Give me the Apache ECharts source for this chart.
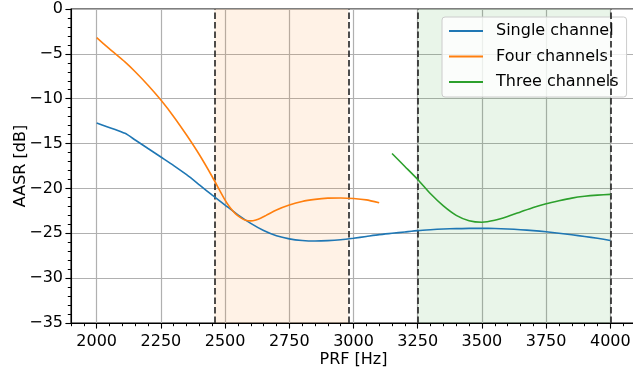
<!DOCTYPE html>
<html>
<head>
<meta charset="utf-8">
<script src="https://cdn.jsdelivr.net/npm/echarts@6/dist/echarts.min.js"></script>
<style>
  html, body { margin: 0; padding: 0; background: #fff; }
  #chart { width: 633px; height: 369px; }
</style>
</head>
<body>
<div id="chart"></div>
<script>
// PRF sweep (Hz) and AASR (dB) for each channel configuration
const prfSingle = [2000, 2110, 2150, 2200, 2250, 2300, 2350, 2400, 2450, 2500, 2550, 2600, 2650, 2700, 2750, 2800, 2850, 2900, 2950, 3000, 3050, 3100, 3150, 3200, 3250, 3300, 3350, 3400, 3450, 3500, 3550, 3600, 3650, 3700, 3750, 3800, 3850, 3900, 3950, 4000];
const aasrSingle = [-12.7, -13.86, -14.6, -15.55, -16.5, -17.45, -18.47, -19.6, -20.75, -21.85, -22.95, -23.9, -24.7, -25.28, -25.62, -25.8, -25.86, -25.82, -25.72, -25.55, -25.35, -25.15, -25.0, -24.85, -24.7, -24.6, -24.52, -24.48, -24.45, -24.45, -24.47, -24.52, -24.6, -24.7, -24.83, -25.0, -25.17, -25.35, -25.56, -25.8];

const prfFour = [2000, 2050, 2110, 2150, 2200, 2250, 2300, 2350, 2400, 2450, 2500, 2520, 2540, 2560, 2580, 2600, 2620, 2640, 2660, 2700, 2750, 2800, 2850, 2900, 2950, 3000, 3050, 3100];
const aasrFour = [-3.2, -4.45, -5.9, -7.0, -8.5, -10.15, -12.0, -14.05, -16.25, -18.7, -21.3, -22.15, -22.8, -23.25, -23.55, -23.62, -23.52, -23.3, -23.0, -22.4, -21.85, -21.45, -21.22, -21.08, -21.06, -21.12, -21.28, -21.6];

const prfThree = [3150, 3200, 3250, 3300, 3350, 3400, 3450, 3500, 3550, 3600, 3650, 3700, 3750, 3800, 3850, 3900, 3950, 4000];
const aasrThree = [-16.1, -17.55, -19.0, -20.6, -21.95, -23.0, -23.6, -23.77, -23.55, -23.12, -22.62, -22.12, -21.7, -21.37, -21.08, -20.88, -20.75, -20.66];

// Highlighted PRF windows [start, end]
const bandFour = [2458, 2980];
const bandThree = [3250, 4000];

// Axis ticks
const xMajorTicks = [2000, 2250, 2500, 2750, 3000, 3250, 3500, 3750, 4000];
const xRange = [1900, 4100];
const yRange = [-35, 0];

const FONT = 'DejaVu Sans';
const zip = (xs, ys) => xs.map((x, i) => [x, ys[i]]);
const minus = v => String(v).replace('-', '\u2212');

const chart = echarts.init(document.getElementById('chart'), null, { renderer: 'canvas' });

const lineSeries = (name, color, xs, ys) => ({
  name, type: 'line', xAxisIndex: 0, yAxisIndex: 0,
  data: zip(xs, ys), symbol: 'none', showSymbol: false,
  smooth: 0.2,
  lineStyle: { color, width: 1.6 }, itemStyle: { color },
  z: 5, animation: false
});

chart.setOption({
  animation: false,
  backgroundColor: '#ffffff',
  textStyle: { fontFamily: FONT },
  grid: {
    left: 71, top: 9, right: -3, bottom: 46,
    containLabel: false, outerBoundsMode: 'none',
    show: true, borderColor: '#000', borderWidth: 1.1, backgroundColor: 'transparent'
  },
  legend: {
    data: ['Single channel', 'Four channels', 'Three channels'],
    orient: 'vertical',
    left: 442, top: 17,
    padding: [6, 8, 7, 6],
    itemWidth: 34, itemHeight: 14, itemGap: 9.5,
    itemStyle: { opacity: 0 },
    backgroundColor: 'rgba(255,255,255,0.8)',
    borderColor: '#cccccc', borderWidth: 1, borderRadius: 3,
    textStyle: { fontFamily: FONT, fontSize: 16, color: '#000', padding: [0, 0, 0, 8], lineHeight: 16 }
  },
  xAxis: [
    {
      // data axis carrying the 50 Hz minor ticks
      type: 'value', min: xRange[0], max: xRange[1], interval: 50, position: 'bottom',
      axisLine: { show: true, onZero: false, lineStyle: { color: '#000', width: 1.1 } },
      axisTick: { show: true, length: 3.2, lineStyle: { color: '#000', width: 1 } },
      axisLabel: { show: false },
      splitLine: { show: false }
    },
    {
      // major ticks, labels and vertical grid
      type: 'value', min: xRange[0], max: xRange[1], position: 'bottom',
      name: 'PRF [Hz]', nameLocation: 'middle', nameGap: 29, nameMoveOverlap: false,
      nameTextStyle: { fontFamily: FONT, fontSize: 16, color: '#000' },
      axisLine: { show: false, onZero: false },
      axisTick: { show: true, length: 5.6, customValues: xMajorTicks, lineStyle: { color: '#000', width: 1.1 } },
      axisLabel: { show: true, customValues: xMajorTicks, margin: 11, fontFamily: FONT, fontSize: 16, color: '#000', formatter: v => String(v) },
      splitLine: { show: true, lineStyle: { color: '#b0b0b0', width: 1.2 } }
    }
  ],
  yAxis: {
    type: 'value', min: yRange[0], max: yRange[1], interval: 5,
    name: 'AASR [dB]', nameLocation: 'middle', nameGap: 42, nameMoveOverlap: false,
    nameTextStyle: { fontFamily: FONT, fontSize: 16, color: '#000' },
    axisLine: { show: true, onZero: false, lineStyle: { color: '#000', width: 1.1 } },
    axisTick: { show: true, length: 5.6, lineStyle: { color: '#000', width: 1.1 } },
    minorTick: { show: true, splitNumber: 5, length: 3.2, lineStyle: { color: '#000', width: 1 } },
    axisLabel: { margin: 8, fontFamily: FONT, fontSize: 16, color: '#000', formatter: v => minus(v) },
    splitLine: { show: true, lineStyle: { color: '#b0b0b0', width: 1.2 } }
  },
  series: [
    {
      // shaded PRF windows and their dashed bounds
      name: 'windows', type: 'line', xAxisIndex: 0, yAxisIndex: 0, data: [], z: 2,
      silent: true, animation: false,
      markArea: {
        silent: true,
        label: { show: false },
        data: [
          [{ xAxis: bandFour[0], itemStyle: { color: 'rgba(255,127,14,0.1)' } }, { xAxis: bandFour[1] }],
          [{ xAxis: bandThree[0], itemStyle: { color: 'rgba(44,160,44,0.1)' } }, { xAxis: bandThree[1] }]
        ]
      },
      markLine: {
        silent: true, symbol: 'none', animation: false,
        label: { show: false },
        lineStyle: { color: '#222', width: 1.6, type: [6.5, 3] },
        data: [bandFour[0], bandFour[1], bandThree[0], bandThree[1]].map(v => ({ xAxis: v }))
      }
    },
    lineSeries('Single channel', '#1f77b4', prfSingle, aasrSingle),
    lineSeries('Four channels', '#ff7f0e', prfFour, aasrFour),
    lineSeries('Three channels', '#2ca02c', prfThree, aasrThree)
  ]
});
</script>
</body>
</html>
